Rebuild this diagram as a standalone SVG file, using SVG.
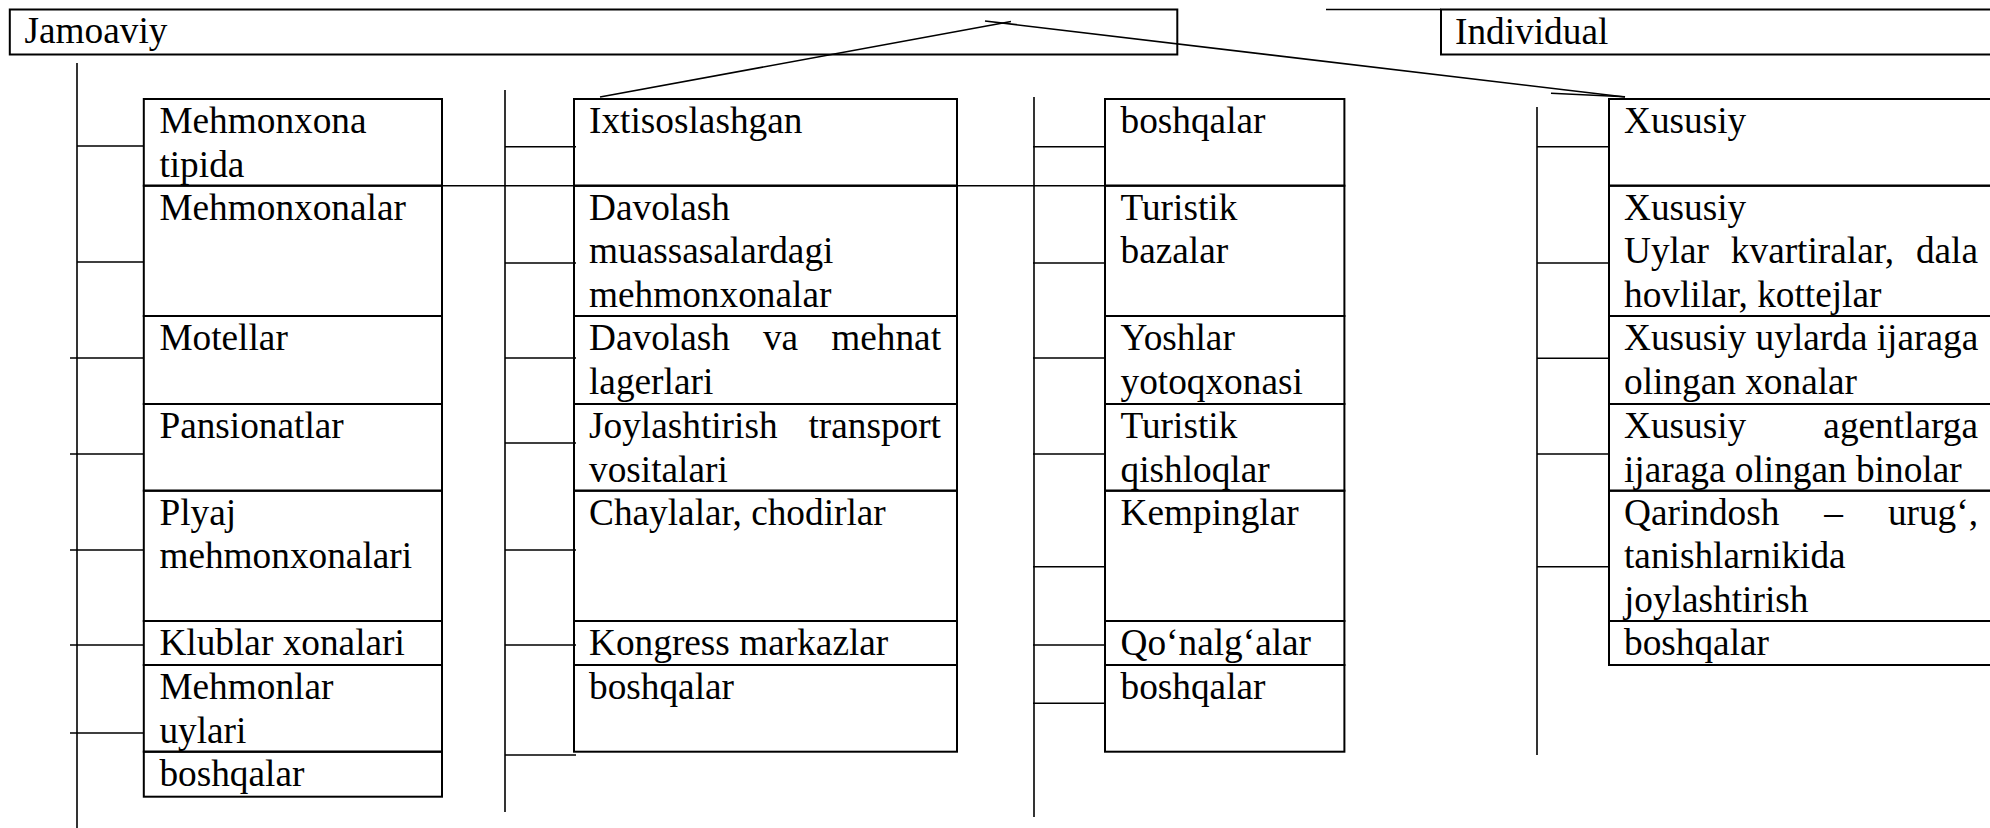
<svg xmlns="http://www.w3.org/2000/svg" width="1990" height="828" viewBox="0 0 1990 828">
  <style>
    .box { fill: none; stroke: #000; stroke-width: 2; }
    .lbl { font-family: "Liberation Serif", "Times New Roman", serif; font-size: 37.3px; fill: #000; }
    .end { text-anchor: end; }
    .mid { text-anchor: middle; }
    .wire { stroke: #000; stroke-width: 1.6; fill: none; }
  </style>
  <rect x="0" y="0" width="1990" height="828" fill="#fff"/>

  <!-- top-level categories -->
  <g id="jamoaviy">
    <rect class="box" x="9.8" y="9.5" width="1167.5" height="45"/>
    <text class="lbl" x="24.5" y="43">Jamoaviy</text>
  </g>
  <g id="individual">
    <rect class="box" x="1441" y="9.5" width="600" height="45"/>
    <text class="lbl" x="1455" y="43.5">Individual</text>
  </g>

  <!-- column 1 -->
  <g id="c1-mehmonxona-tipida">
    <rect class="box" x="143.8" y="99" width="298.2" height="86.7"/>
    <text class="lbl" x="159.4" y="133.3">Mehmonxona<tspan x="159.4" dy="43.4">tipida</tspan></text>
  </g>
  <g id="c1-mehmonxonalar">
    <rect class="box" x="143.8" y="185.7" width="298.2" height="130.3"/>
    <text class="lbl" x="159.4" y="220">Mehmonxonalar</text>
  </g>
  <g id="c1-motellar">
    <rect class="box" x="143.8" y="316" width="298.2" height="88"/>
    <text class="lbl" x="159.4" y="350.3">Motellar</text>
  </g>
  <g id="c1-pansionatlar">
    <rect class="box" x="143.8" y="404" width="298.2" height="86.7"/>
    <text class="lbl" x="159.4" y="438.3">Pansionatlar</text>
  </g>
  <g id="c1-plyaj">
    <rect class="box" x="143.8" y="490.7" width="298.2" height="130.3"/>
    <text class="lbl" x="159.4" y="525">Plyaj<tspan x="159.4" dy="43.4">mehmonxonalari</tspan></text>
  </g>
  <g id="c1-klublar">
    <rect class="box" x="143.8" y="621" width="298.2" height="44"/>
    <text class="lbl" x="159.4" y="655.3">Klublar xonalari</text>
  </g>
  <g id="c1-mehmonlar-uylari">
    <rect class="box" x="143.8" y="665" width="298.2" height="86.7"/>
    <text class="lbl" x="159.4" y="699.3">Mehmonlar<tspan x="159.4" dy="43.4">uylari</tspan></text>
  </g>
  <g id="c1-boshqalar">
    <rect class="box" x="143.8" y="751.7" width="298.2" height="45"/>
    <text class="lbl" x="159.4" y="786">boshqalar</text>
  </g>

  <!-- column 2 -->
  <g id="c2-ixtisoslashgan">
    <rect class="box" x="574" y="99" width="383" height="86.7"/>
    <text class="lbl" x="589" y="133.3">Ixtisoslashgan</text>
  </g>
  <g id="c2-davolash-muassasa">
    <rect class="box" x="574" y="185.7" width="383" height="130.3"/>
    <text class="lbl" x="589" y="220">Davolash<tspan x="589" dy="43.4">muassasalardagi</tspan><tspan x="589" dy="43.4">mehmonxonalar</tspan></text>
  </g>
  <g id="c2-davolash-mehnat">
    <rect class="box" x="574" y="316" width="383" height="88"/>
    <text class="lbl" x="589" y="350.3">Davolash</text>
    <text class="lbl mid" x="780.5" y="350.3">va</text>
    <text class="lbl end" x="941" y="350.3">mehnat</text>
    <text class="lbl" x="589" y="393.7">lagerlari</text>
  </g>
  <g id="c2-transport">
    <rect class="box" x="574" y="404" width="383" height="86.7"/>
    <text class="lbl" x="589" y="438.3">Joylashtirish</text>
    <text class="lbl end" x="941" y="438.3">transport</text>
    <text class="lbl" x="589" y="481.7">vositalari</text>
  </g>
  <g id="c2-chaylalar">
    <rect class="box" x="574" y="490.7" width="383" height="130.3"/>
    <text class="lbl" x="589" y="525">Chaylalar, chodirlar</text>
  </g>
  <g id="c2-kongress">
    <rect class="box" x="574" y="621" width="383" height="44"/>
    <text class="lbl" x="589" y="655.3">Kongress markazlar</text>
  </g>
  <g id="c2-boshqalar">
    <rect class="box" x="574" y="665" width="383" height="86.7"/>
    <text class="lbl" x="589" y="699.3">boshqalar</text>
  </g>

  <!-- column 3 -->
  <g id="c3-boshqalar-top">
    <rect class="box" x="1105" y="99" width="239.4" height="86.7"/>
    <text class="lbl" x="1120.5" y="133.3">boshqalar</text>
  </g>
  <g id="c3-turistik-bazalar">
    <rect class="box" x="1105" y="185.7" width="239.4" height="130.3"/>
    <text class="lbl" x="1120.5" y="220">Turistik<tspan x="1120.5" dy="43.4">bazalar</tspan></text>
  </g>
  <g id="c3-yoshlar">
    <rect class="box" x="1105" y="316" width="239.4" height="88"/>
    <text class="lbl" x="1120.5" y="350.3">Yoshlar<tspan x="1120.5" dy="43.4">yotoqxonasi</tspan></text>
  </g>
  <g id="c3-turistik-qishloqlar">
    <rect class="box" x="1105" y="404" width="239.4" height="86.7"/>
    <text class="lbl" x="1120.5" y="438.3">Turistik<tspan x="1120.5" dy="43.4">qishloqlar</tspan></text>
  </g>
  <g id="c3-kempinglar">
    <rect class="box" x="1105" y="490.7" width="239.4" height="130.3"/>
    <text class="lbl" x="1120.5" y="525">Kempinglar</text>
  </g>
  <g id="c3-qonalgalar">
    <rect class="box" x="1105" y="621" width="239.4" height="44"/>
    <text class="lbl" x="1120.5" y="655.3">Qo‘nalg‘alar</text>
  </g>
  <g id="c3-boshqalar">
    <rect class="box" x="1105" y="665" width="239.4" height="86.7"/>
    <text class="lbl" x="1120.5" y="699.3">boshqalar</text>
  </g>

  <!-- column 4 -->
  <g id="c4-xususiy">
    <rect class="box" x="1609" y="99" width="400" height="86.7"/>
    <text class="lbl" x="1624" y="133.3">Xususiy</text>
  </g>
  <g id="c4-uylar">
    <rect class="box" x="1609" y="185.7" width="400" height="130.3"/>
    <text class="lbl" x="1624" y="220">Xususiy</text>
    <text class="lbl" x="1624" y="263.4">Uylar</text>
    <text class="lbl mid" x="1812.4" y="263.4">kvartiralar,</text>
    <text class="lbl end" x="1978" y="263.4">dala</text>
    <text class="lbl" x="1624" y="306.8">hovlilar, kottejlar</text>
  </g>
  <g id="c4-xonalar">
    <rect class="box" x="1609" y="316" width="400" height="88"/>
    <text class="lbl" x="1624" y="350.3">Xususiy uylarda ijaraga<tspan x="1624" dy="43.4">olingan xonalar</tspan></text>
  </g>
  <g id="c4-binolar">
    <rect class="box" x="1609" y="404" width="400" height="86.7"/>
    <text class="lbl" x="1624" y="438.3">Xususiy</text>
    <text class="lbl end" x="1978" y="438.3">agentlarga</text>
    <text class="lbl" x="1624" y="481.7">ijaraga olingan binolar</text>
  </g>
  <g id="c4-qarindosh">
    <rect class="box" x="1609" y="490.7" width="400" height="130.3"/>
    <text class="lbl" x="1624" y="525">Qarindosh</text>
    <text class="lbl mid" x="1833.6" y="525">–</text>
    <text class="lbl end" x="1978" y="525">urug‘,</text>
    <text class="lbl" x="1624" y="568.4">tanishlarnikida<tspan x="1624" dy="43.4">joylashtirish</tspan></text>
  </g>
  <g id="c4-boshqalar">
    <rect class="box" x="1609" y="621" width="400" height="44"/>
    <text class="lbl" x="1624" y="655.3">boshqalar</text>
  </g>

  <!-- connectors -->
  <g id="connectors" class="wire">
    <!-- top branch lines -->
    <line x1="1326" y1="9.5" x2="1441" y2="9.5"/>
    <line x1="600" y1="97" x2="1011" y2="21.5"/>
    <line x1="985" y1="21" x2="1625" y2="97"/>
    <line x1="1551" y1="93.3" x2="1625" y2="96.7"/>
    <line x1="442" y1="185.7" x2="1105" y2="185.7"/>

    <!-- column 1 spine and ticks -->
    <line x1="77" y1="63" x2="77" y2="828"/>
    <path d="M77 146H144 M77 262H144 M70 358H144 M70 454H144 M70 550H144 M70 645H144 M70 733H144"/>

    <!-- column 2 spine and ticks -->
    <line x1="505" y1="90" x2="505" y2="812"/>
    <path d="M505 146.7H576 M505 263H576 M505 358H576 M505 443H576 M505 550H576 M505 645H576 M505 755H576"/>

    <!-- column 3 spine and ticks -->
    <line x1="1034" y1="97" x2="1034" y2="817"/>
    <path d="M1033 146.7H1106 M1033 263H1106 M1033 358H1106 M1033 454H1106 M1033 566.7H1106 M1033 645H1106 M1033 703.3H1106"/>

    <!-- column 4 spine and ticks -->
    <line x1="1537" y1="107" x2="1537" y2="755"/>
    <path d="M1537 146.7H1609 M1537 263H1609 M1537 358.3H1609 M1537 454H1609 M1537 566.7H1609"/>
  </g>
</svg>
